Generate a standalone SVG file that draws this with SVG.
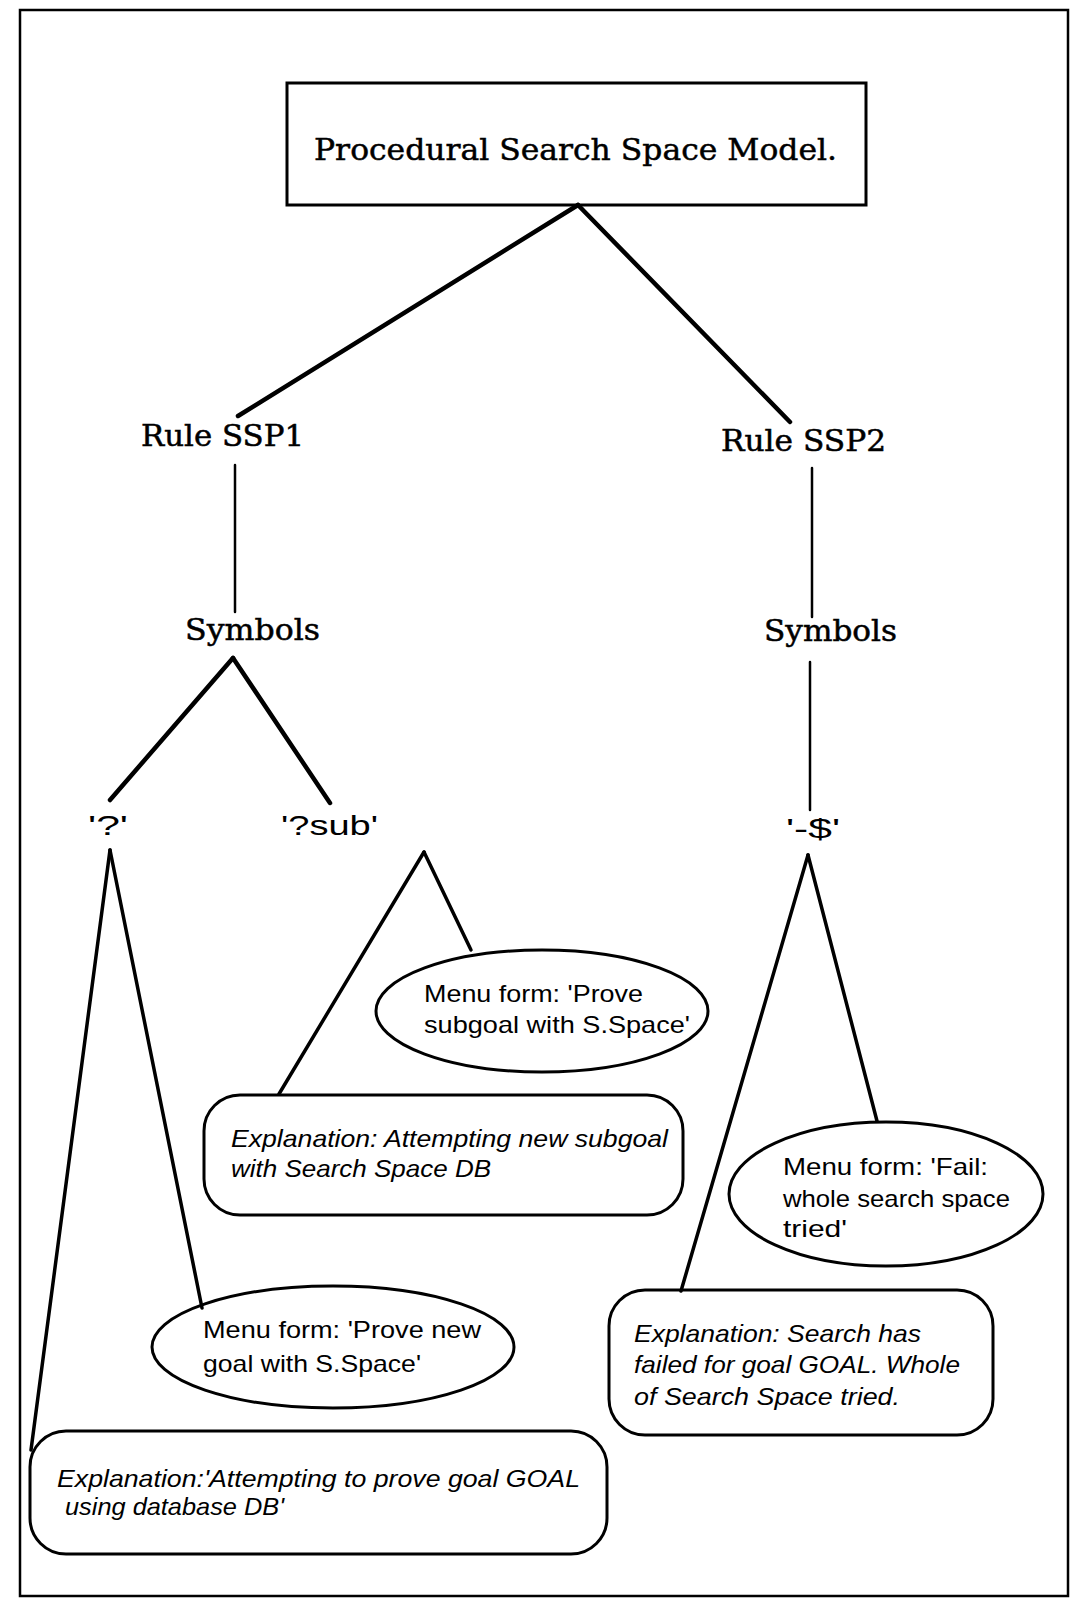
<svg xmlns="http://www.w3.org/2000/svg" width="1079" height="1599" viewBox="0 0 1079 1599">
<style>
.bg{fill:#fff}
.frame{fill:none;stroke:#000;stroke-width:2.5}
.node{fill:none;stroke:#000;stroke-width:3}
.c{stroke:#000;stroke-linecap:round;fill:none}
.thick{stroke-width:4.5}
.mid{stroke-width:3.5}
.thin{stroke-width:2.5}
.serif{font-family:"DejaVu Serif","Liberation Serif",serif;fill:#000;stroke:#000;stroke-width:0.5}
.sans{font-family:"Liberation Sans",Arial,sans-serif;fill:#000}
.menu{font-family:"Liberation Sans",Arial,sans-serif;font-size:24px;fill:#000}
.expl{font-family:"Liberation Sans",Arial,sans-serif;font-size:24px;font-style:italic;fill:#000}
</style>
<rect class="bg" x="0" y="0" width="1079" height="1599"/>
<rect class="frame" x="20" y="10" width="1048" height="1586"/>
<g id="connectors">
<line class="c thick" x1="578" y1="205" x2="238" y2="416"/>
<line class="c thick" x1="578" y1="205" x2="790" y2="422"/>
<line class="c thin" x1="235" y1="465" x2="235" y2="612"/>
<line class="c thin" x1="812" y1="468" x2="812" y2="617"/>
<line class="c thick" x1="233" y1="658" x2="110" y2="800"/>
<line class="c thick" x1="233" y1="658" x2="330" y2="803"/>
<line class="c thin" x1="810" y1="662" x2="810" y2="810"/>
<line class="c mid" x1="110" y1="850" x2="31" y2="1450"/>
<line class="c mid" x1="110" y1="850" x2="202" y2="1308"/>
<line class="c mid" x1="424" y1="852" x2="279" y2="1094"/>
<line class="c mid" x1="424" y1="852" x2="471" y2="950"/>
<line class="c mid" x1="808" y1="855" x2="681" y2="1291"/>
<line class="c mid" x1="808" y1="855" x2="877" y2="1121"/>
</g>
<g id="title">
<rect class="node" x="287" y="83" width="579" height="122"/>
<text class="serif" x="314" y="160" font-size="30" textLength="523" lengthAdjust="spacingAndGlyphs">Procedural Search Space Model.</text>
</g>
<g id="rule-ssp1">
<text class="serif" x="141" y="446" font-size="29" textLength="163" lengthAdjust="spacingAndGlyphs">Rule SSP1</text>
</g>
<g id="rule-ssp2">
<text class="serif" x="721" y="451" font-size="29" textLength="165" lengthAdjust="spacingAndGlyphs">Rule SSP2</text>
</g>
<g id="symbols-1">
<text class="serif" x="185" y="640" font-size="29" textLength="135" lengthAdjust="spacingAndGlyphs">Symbols</text>
</g>
<g id="symbols-2">
<text class="serif" x="764" y="641" font-size="29" textLength="133" lengthAdjust="spacingAndGlyphs">Symbols</text>
</g>
<g id="sym-q">
<text class="sans" x="88" y="835" font-size="28" textLength="40" lengthAdjust="spacingAndGlyphs">'?'</text>
</g>
<g id="sym-qsub">
<text class="sans" x="281" y="835" font-size="28" textLength="97" lengthAdjust="spacingAndGlyphs">'?sub'</text>
</g>
<g id="sym-dollar">
<text class="sans" x="786" y="838" font-size="28" textLength="54" lengthAdjust="spacingAndGlyphs">'-$'</text>
</g>
<g id="menu-subgoal">
<ellipse class="node" cx="542" cy="1011" rx="166" ry="61"/>
<text class="menu" x="424" y="1002" textLength="219" lengthAdjust="spacingAndGlyphs">Menu form: 'Prove</text>
<text class="menu" x="424" y="1033" textLength="266" lengthAdjust="spacingAndGlyphs">subgoal with S.Space'</text>
</g>
<g id="expl-subgoal">
<rect class="node" x="204" y="1095" width="479" height="120" rx="36" ry="36"/>
<text class="expl" x="231" y="1147" textLength="437" lengthAdjust="spacingAndGlyphs">Explanation: Attempting new subgoal</text>
<text class="expl" x="231" y="1177" textLength="260" lengthAdjust="spacingAndGlyphs">with Search Space DB</text>
</g>
<g id="menu-fail">
<ellipse class="node" cx="886" cy="1194" rx="157" ry="72"/>
<text class="menu" x="783" y="1175" textLength="205" lengthAdjust="spacingAndGlyphs">Menu form: 'Fail:</text>
<text class="menu" x="783" y="1207" textLength="227" lengthAdjust="spacingAndGlyphs">whole search space</text>
<text class="menu" x="783" y="1237" textLength="64" lengthAdjust="spacingAndGlyphs">tried'</text>
</g>
<g id="expl-fail">
<rect class="node" x="609" y="1290" width="384" height="145" rx="36" ry="36"/>
<text class="expl" x="634" y="1342" textLength="287" lengthAdjust="spacingAndGlyphs">Explanation: Search has</text>
<text class="expl" x="634" y="1373" textLength="326" lengthAdjust="spacingAndGlyphs">failed for goal GOAL. Whole</text>
<text class="expl" x="634" y="1405" textLength="266" lengthAdjust="spacingAndGlyphs">of Search Space tried.</text>
</g>
<g id="menu-goal">
<ellipse class="node" cx="333" cy="1347" rx="181" ry="61"/>
<text class="menu" x="203" y="1338" textLength="278" lengthAdjust="spacingAndGlyphs">Menu form: 'Prove new</text>
<text class="menu" x="203" y="1372" textLength="218" lengthAdjust="spacingAndGlyphs">goal with S.Space'</text>
</g>
<g id="expl-goal">
<rect class="node" x="30" y="1431" width="577" height="123" rx="36" ry="36"/>
<text class="expl" x="57" y="1487" textLength="523" lengthAdjust="spacingAndGlyphs">Explanation:'Attempting to prove goal GOAL</text>
<text class="expl" x="65" y="1515" textLength="219" lengthAdjust="spacingAndGlyphs">using database DB'</text>
</g>
</svg>
